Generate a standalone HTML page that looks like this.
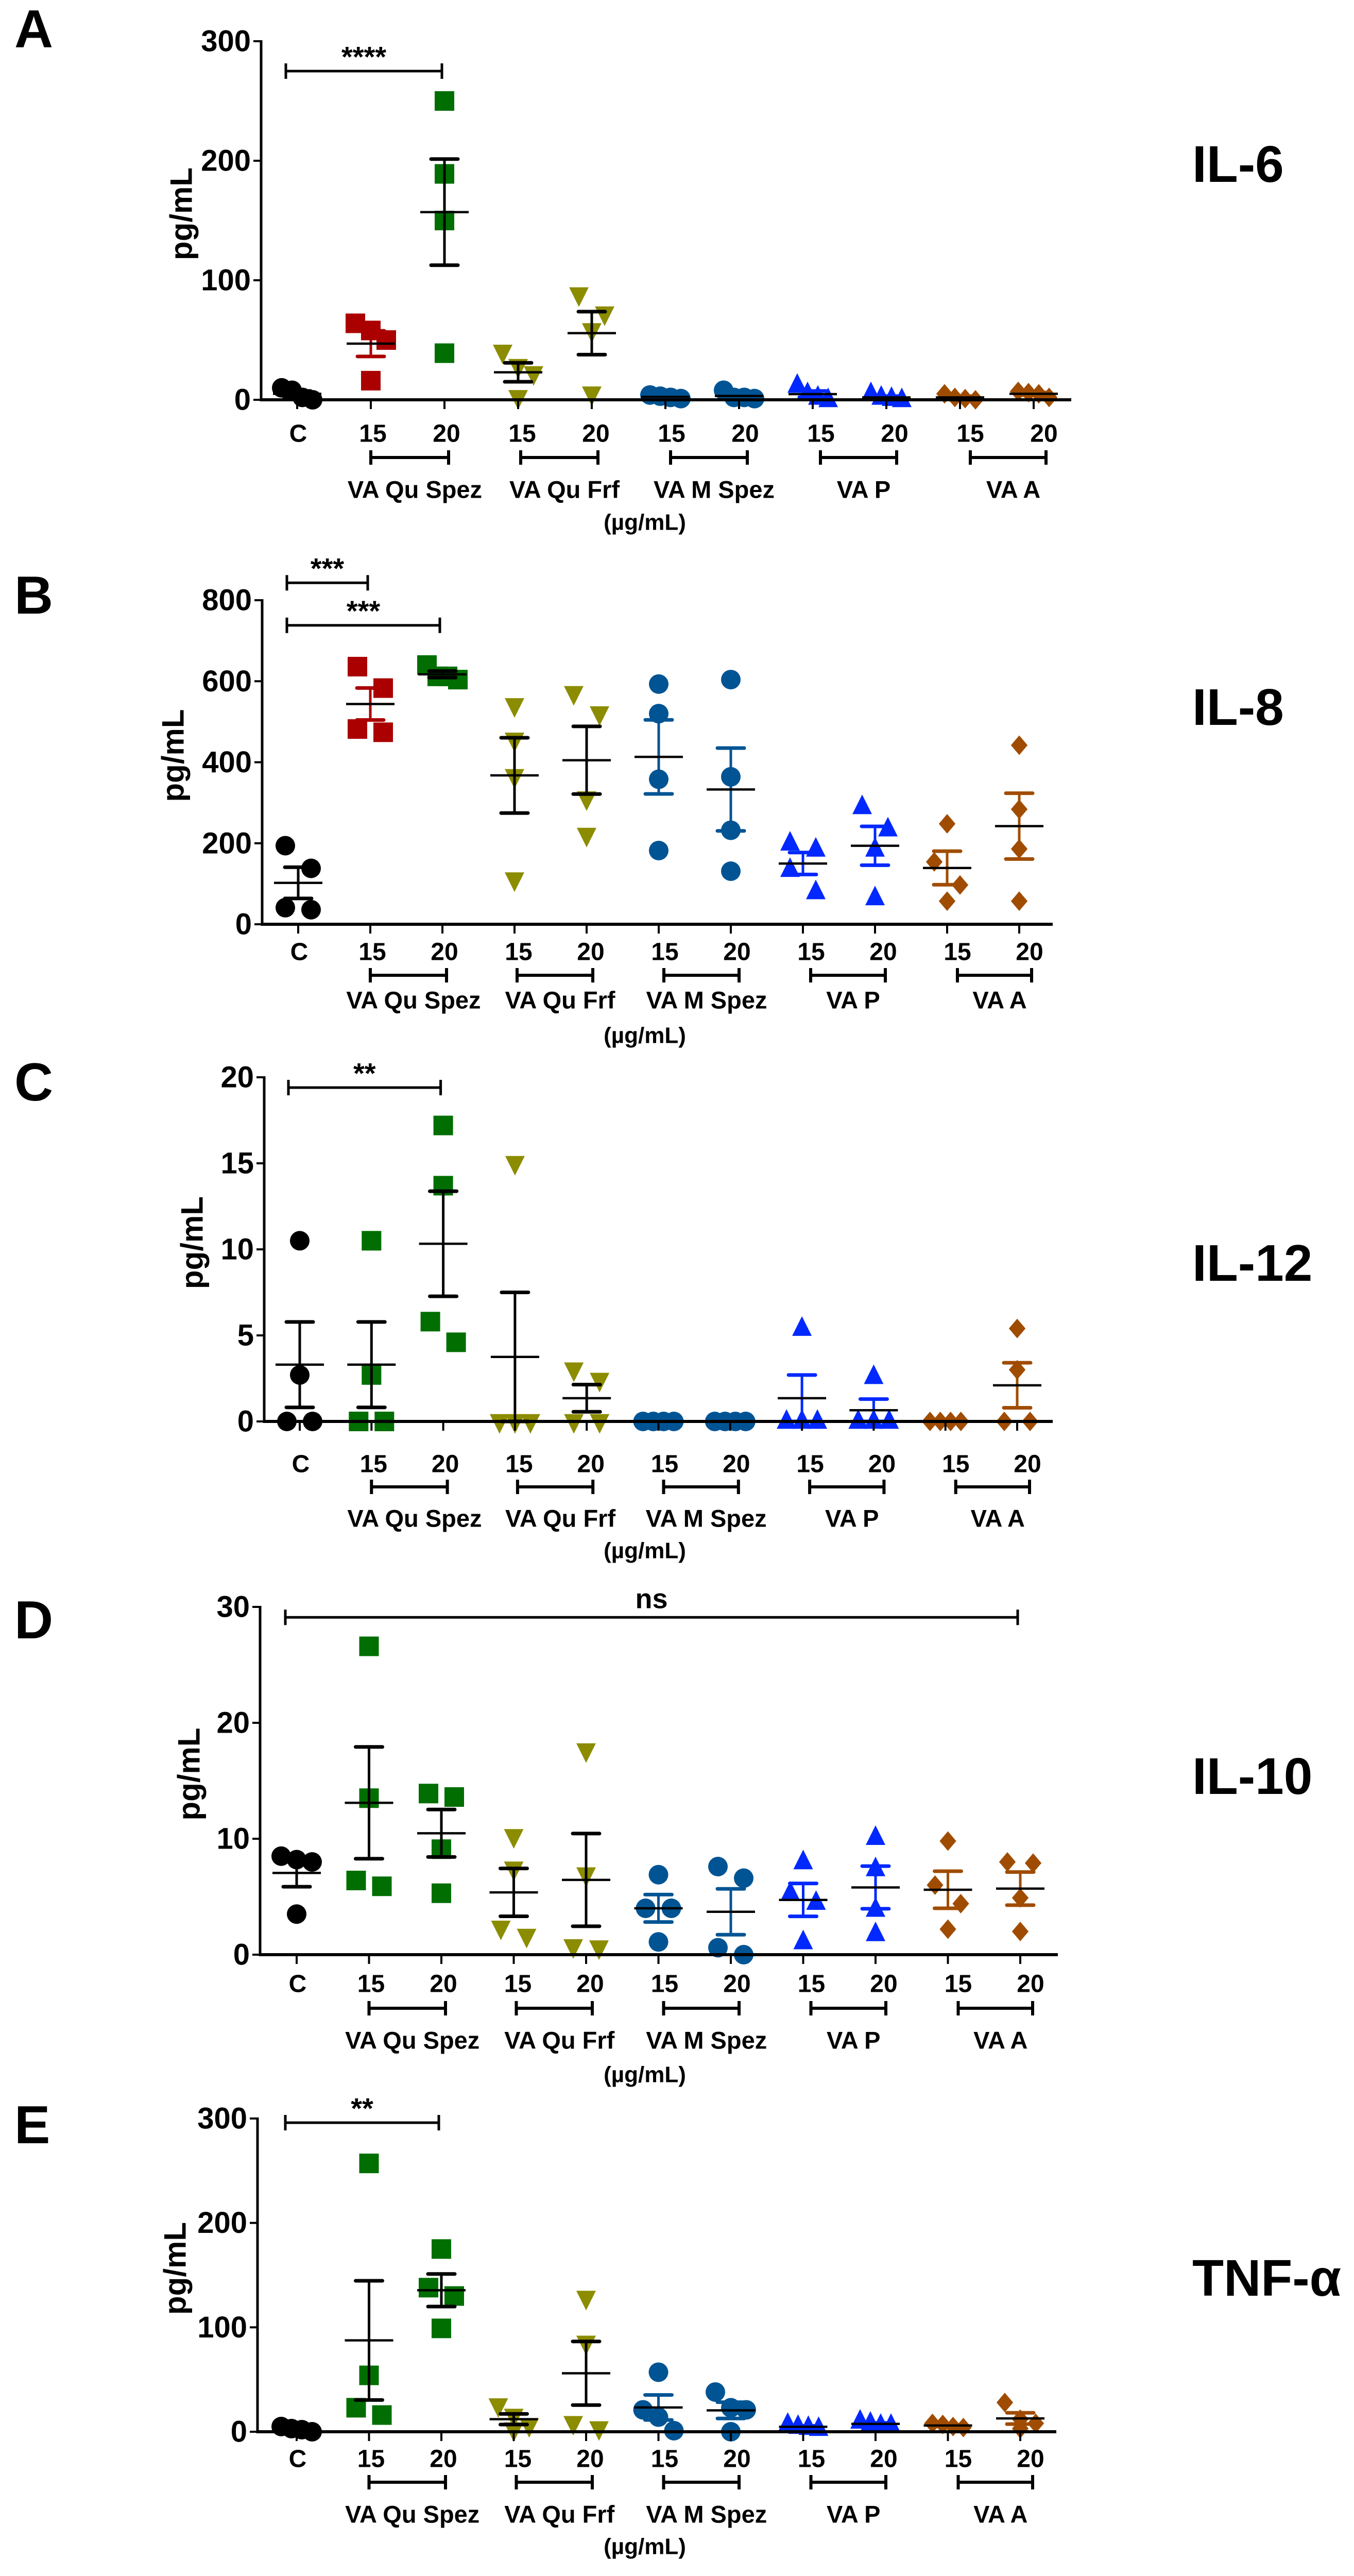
<!DOCTYPE html>
<html><head><meta charset="utf-8"><title>Cytokine panels</title>
<style>
html,body{margin:0;padding:0;background:#fff;width:2629px;height:5006px;overflow:hidden;}
svg{display:block;font-family:"Liberation Sans",Arial,sans-serif;font-weight:bold;}
</style></head>
<body>
<svg id="fig" width="2629" height="5006" viewBox="0 0 2629 5006" xmlns="http://www.w3.org/2000/svg"></svg>
<script>
// ---- data ----
const categories = ["C","15","20","15","20","15","20","15","20","15","20"];
const groupNames = ["VA Qu Spez","VA Qu Frf","VA M Spez","VA P","VA A"];
const panelLetters = ["A","B","C","D","E"];
const cytokines = ["IL-6","IL-8","IL-12","IL-10","TNF-α"];
const ticksA = [0,100,200,300];
const ticksB = [0,200,400,600,800];
const ticksC = [0,5,10,15,20];
const ticksD = [0,10,20,30];
const ticksE = [0,100,200,300];
const il6 = [[2,8,10,0],[58,64,50,16],[250,189,150,39],[40,28,22,2],[88,72,58,5],[3,2,4,1],[2,1,8,2],[0,12,5,2],[0,5,2,1],[0,5,1,2],[6,7,5,2]];
const il8 = [[194,138,41,36],[636,583,482,474],[612,640,604,612],[540,455,365,110],[570,520,310,220],[593,520,358,182],[604,364,232,131],[200,185,135,80],[290,235,185,65],[248,154,97,57],[442,284,186,57]];
const il12 = [[10.5,2.7,0,0],[10.5,2.7,0,0],[17.2,13.7,5.8,4.6],[15,0,0,0],[3,2.4,0,0],[0,0,0,0],[0,0,0,0],[5.4,0,0,0],[2.6,0,0,0],[0,0,0,0],[5.4,3,0,0]];
const il10 = [[8.2,8.5,8.0,3.5],[26.6,13.5,6.4,5.9],[13.6,13.9,9.1,5.3],[10.2,7.4,2.3,1.6],[17.6,6.9,0.6,0.7],[6.9,4.0,4.0,1.1],[7.6,6.6,0.6,0],[8.0,5.3,4.5,1.1],[10.1,7.4,3.9,1.8],[9.8,6.0,4.4,2.2],[8.0,7.9,4.9,2.0]];
const tnf = [[3,5,2,0],[257,54,23,16],[175,138,130,99],[25,15,6,2],[128,85,8,3],[57,21,14,1],[38,23,21,0],[7,5,3,4],[8,10,6,6],[8,7,5,4],[28,12,8,3]];
const sigFromA = [0], sigToA = [2], sigLevelA = [275], sigLabelA = ["****"];
const sigFromB = [0,0], sigToB = [1,2], sigLevelB = [843,738], sigLabelB = ["***","***"];
const sigFromC = [0], sigToC = [2], sigLevelC = [19.4], sigLabelC = ["**"];
const sigFromD = [0], sigToD = [10], sigLevelD = [29.1], sigLabelD = ["ns"];
const sigFromE = [0], sigToE = [2], sigLevelE = [296], sigLabelE = ["**"];

// ---- styles / geometry ----
const shapes = ["circle","square","square","tridown","tridown","circle","circle","triup","triup","diamond","diamond"];
const RED="#aa0000", GRN="#006e00", OLV="#8c8c00", BLC="#005494", BLT="#0028ff", ORG="#a04c00";
const colAB = ["#000",RED,GRN,OLV,OLV,BLC,BLC,BLT,BLT,ORG,ORG];
const colCDE = ["#000",GRN,GRN,OLV,OLV,BLC,BLC,BLT,BLT,ORG,ORG];
const errAB = ["#000",RED,"#000","#000","#000",BLC,BLC,BLT,BLT,ORG,ORG];
const errCDE = ["#000","#000","#000","#000","#000",BLC,BLC,BLT,BLT,ORG,ORG];

const panels = [
 {ax:507,y0:776,yTop:80,max:300,c0:577,dx:143,right:2080,catY:842,brY:888,grpY:950,unitY:1014,letterY:57,ilY:319,titleX:352,
  ticks:ticksA,vals:il6,cols:colAB,errs:errAB,sf:sigFromA,st:sigToA,sl:sigLevelA,sb:sigLabelA},
 {ax:509,y0:1794,yTop:1165,max:800,c0:579,dx:140,right:2044,catY:1848,brY:1893,grpY:1941,unitY:2010,letterY:1156,ilY:1373,titleX:336,
  ticks:ticksB,vals:il8,cols:colAB,errs:errAB,sf:sigFromB,st:sigToB,sl:sigLevelB,sb:sigLabelB},
 {ax:513,y0:2759,yTop:2091,max:20,c0:582,dx:139.3,right:2044,catY:2842,brY:2886,grpY:2947,unitY:3010,letterY:2101,ilY:2452,titleX:373,
  ticks:ticksC,vals:il12,cols:colCDE,errs:errCDE,sf:sigFromC,st:sigToC,sl:sigLevelC,sb:sigLabelC},
 {ax:505,y0:3794,yTop:3119,max:30,c0:576,dx:140.5,right:2054,catY:3851,brY:3898,grpY:3960,unitY:4027,letterY:3145,ilY:3448,titleX:367,
  ticks:ticksD,vals:il10,cols:colCDE,errs:errCDE,sf:sigFromD,st:sigToD,sl:sigLevelD,sb:sigLabelD},
 {ax:500,y0:4720,yTop:4112,max:300,c0:576,dx:140.5,right:2051,catY:4773,brY:4818,grpY:4880,unitY:4943,letterY:4125,ilY:4422,titleX:340,
  ticks:ticksE,vals:tnf,cols:colCDE,errs:errCDE,sf:sigFromE,st:sigToE,sl:sigLevelE,sb:sigLabelE}
];

const NS="http://www.w3.org/2000/svg";
const svg=document.getElementById("fig");
function mk(tag,attrs,parent){const e=document.createElementNS(NS,tag);for(const k in attrs)e.setAttribute(k,attrs[k]);(parent||svg).appendChild(e);return e;}
function txt(s,x,y,size,anchor,parent){const t=mk("text",{x:x,y:y,"font-size":size,"text-anchor":anchor||"middle","dominant-baseline":"central",fill:"#000"},parent);t.textContent=s;return t;}

const MS=38;
function marker(shape,x,y,color,g){
  const h=MS/2;let e;
  if(shape==="circle") e=mk("circle",{cx:x,cy:y,r:h,fill:color},g);
  else if(shape==="square") e=mk("rect",{x:x-h,y:y-h,width:MS,height:MS,fill:color},g);
  else if(shape==="triup") e=mk("polygon",{points:`${x-h},${y+h*0.75} ${x+h},${y+h*0.75} ${x},${y-h*1.25}`,fill:color},g);
  else if(shape==="tridown") e=mk("polygon",{points:`${x-h},${y-h*0.75} ${x+h},${y-h*0.75} ${x},${y+h*1.25}`,fill:color},g);
  else e=mk("polygon",{points:`${x},${y-h} ${x+h*0.85},${y} ${x},${y+h} ${x-h*0.85},${y}`,fill:color},g);
  return e;
}

panels.forEach((p,pi)=>{
  const g=mk("g",{});
  
  
  const yS=v=>p.y0-(v/p.max)*(p.y0-p.yTop);
  const xS=i=>p.c0+i*p.dx;

  const L=txt(panelLetters[pi],28,p.letterY,104,"start",g);
  
  
  const C=txt(cytokines[pi],2315,p.ilY,100,"start",g);
  
  

  const yt=mk("text",{x:0,y:0,"font-size":60,"text-anchor":"middle","dominant-baseline":"central",transform:`translate(${p.titleX},${(p.y0+p.yTop)/2-13}) rotate(-90)`},g);
  yt.textContent="pg/mL";
  
  

  p.ticks.forEach(t=>{
    const y=yS(t);
    const tl=mk("line",{x1:p.ax-15,x2:p.ax,y1:y,y2:y,stroke:"#000","stroke-width":4},g);
    
    
    const lb=txt(String(t),p.ax-20,y,58,"end",g);
    
    
  });

  p.vals.forEach((vals,ci)=>{
    const cx=xS(ci);
    const sg=mk("g",{},g);
    
    
    const pts=vals.map(v=>({v:v,y:yS(v)})).sort((a,b)=>a.y-b.y);
    const rows=[];
    pts.forEach(pt=>{const r=rows.find(r=>Math.abs(r[0].y-pt.y)<46);if(r)r.push(pt);else rows.push([pt]);});
    rows.forEach(r=>{
      const n=r.length;const step=n<=1?0:(n===2?50:(n===3?30:20));
      r.forEach((pt,k)=>{
        const m=marker(shapes[ci],cx+(k-(n-1)/2)*step,pt.y,p.cols[ci],sg);
        
        
      });
    });
    const n=vals.length;const mean=vals.reduce((a,b)=>a+b,0)/n;
    const sd=Math.sqrt(vals.reduce((a,b)=>a+(b-mean)*(b-mean),0)/(n-1));const sem=sd/Math.sqrt(n);
    const ec=p.errs[ci];
    const yHi=yS(mean+sem), yLo=yS(Math.max(mean-sem,0)), ym=yS(mean);
    if(sem>0){
      const eb=mk("line",{x1:cx,x2:cx,y1:yHi,y2:yLo,stroke:ec,"stroke-width":5},sg);
      
      
      [yHi,yLo].forEach(yy=>{
        const cp=mk("line",{x1:cx-26,x2:cx+26,y1:yy,y2:yy,stroke:ec,"stroke-width":7,"stroke-linecap":"round"},sg);
        
        
      });
    }
    const ml=mk("line",{x1:cx-47,x2:cx+47,y1:ym,y2:ym,stroke:"#000","stroke-width":4.5},sg);
    
    
  });

  const ya=mk("line",{x1:p.ax,x2:p.ax,y1:p.yTop-2,y2:p.y0+3,stroke:"#000","stroke-width":5},g);
  
  
  const xa=mk("line",{x1:p.ax-2,x2:p.right,y1:p.y0,y2:p.y0,stroke:"#000","stroke-width":6},g);
  
  
  categories.forEach((c,ci)=>{
    const x=xS(ci);
    const tk=mk("line",{x1:x,x2:x,y1:p.y0,y2:p.y0+18,stroke:"#000","stroke-width":4},g);
    
    
    const gi=ci===0?0:Math.ceil(ci/2);
    const cl=txt(c,x+(ci===0?2:4*gi),p.catY,48,"middle",g);
    
    
  });
  groupNames.forEach((gn,k)=>{
    const x1=xS(1+2*k)+5*k, x2=xS(2+2*k)+8+4*k;
    const br=mk("path",{d:`M${x1},${p.brY-14}V${p.brY+14}M${x1},${p.brY}H${x2}M${x2},${p.brY-14}V${p.brY+14}`,stroke:"#000","stroke-width":6,fill:"none"},g);
    
    
    const gl=txt(gn,(x1+x2)/2+10,p.grpY,47,"middle",g);
    
    
  });
  const ul=txt("(µg/mL)",1252,p.unitY,44,"middle",g);
  
  

  p.sf.forEach((f,k)=>{
    const x1=xS(f)-22, x2=xS(p.st[k])-5, y=yS(p.sl[k]);
    const sb=mk("path",{d:`M${x1},${y-15}V${y+15}M${x1},${y}H${x2}M${x2},${y-15}V${y+15}`,stroke:"#000","stroke-width":5,fill:"none"},g);
    
    
    const isNs=p.sb[k]==="ns";
    const st=txt(p.sb[k],(x1+x2)/2,y-(isNs?36:28),isNs?54:56,"middle",g);
    
    
  });
});
</script>
</body></html>
